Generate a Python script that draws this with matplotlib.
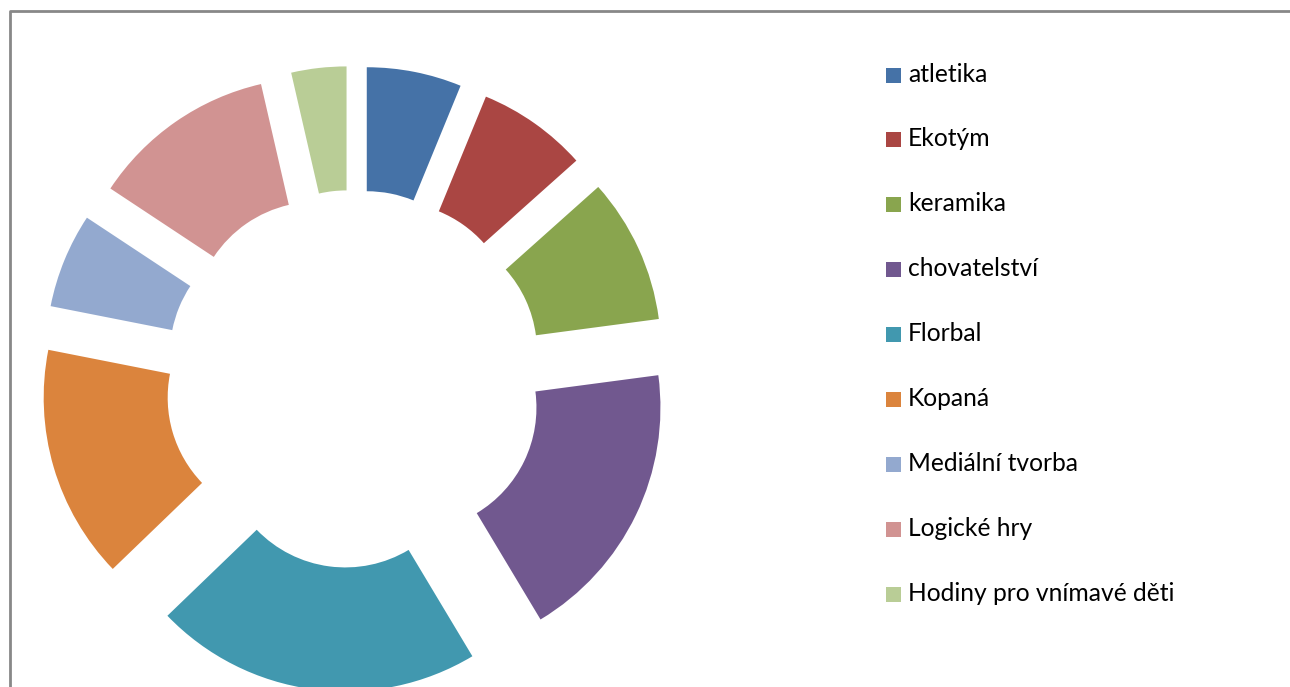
import matplotlib
matplotlib.use('Agg')
import matplotlib.pyplot as plt
from matplotlib.patches import Rectangle

# Data (shares, percent)
labels = ['atletika', 'Ekotým', 'keramika', 'chovatelství', 'Florbal',
          'Kopaná', 'Mediální tvorba', 'Logické hry', 'Hodiny pro vnímavé děti']
values = [6.2, 7.2, 9.5, 18.5, 21.4, 15.3, 6.2, 12.1, 3.6]
colors = ['#4572A7', '#AA4643', '#89A54E', '#71588F', '#4198AF',
          '#DB843D', '#93A9CF', '#D19392', '#B9CD96']

W, H = 1290, 687
fig = plt.figure(figsize=(W / 100, H / 100), dpi=100)
ax = fig.add_axes([0, 0, 1, 1])

# chart border (right and bottom are cut off in the original)
ax.plot([10, 10, W + 5], [-5, H - 11, H - 11], color='#888888', lw=2, clip_on=False)

R = 247
# explode is in data units here (pixels)
ax.pie(values, colors=colors, startangle=90, counterclock=False,
       radius=R, center=(354, H - 379), explode=[66] * len(values),
       wedgeprops=dict(width=R - 123, linewidth=0), frame=True)
ax.set_xlim(0, W)
ax.set_ylim(0, H)
ax.set_aspect('equal')
ax.axis('off')

# legend
y0, step = 75, 64.9
for i, (lab, c) in enumerate(zip(labels, colors)):
    y = H - (y0 + i * step)
    ax.add_patch(Rectangle((886, y - 7.5), 15, 15, color=c, lw=0))
    ax.text(908, y + 1, lab, fontsize=17.7, family='Lato', va='center', ha='left',
            color='#000000')

fig.savefig('out.png', dpi=100)
